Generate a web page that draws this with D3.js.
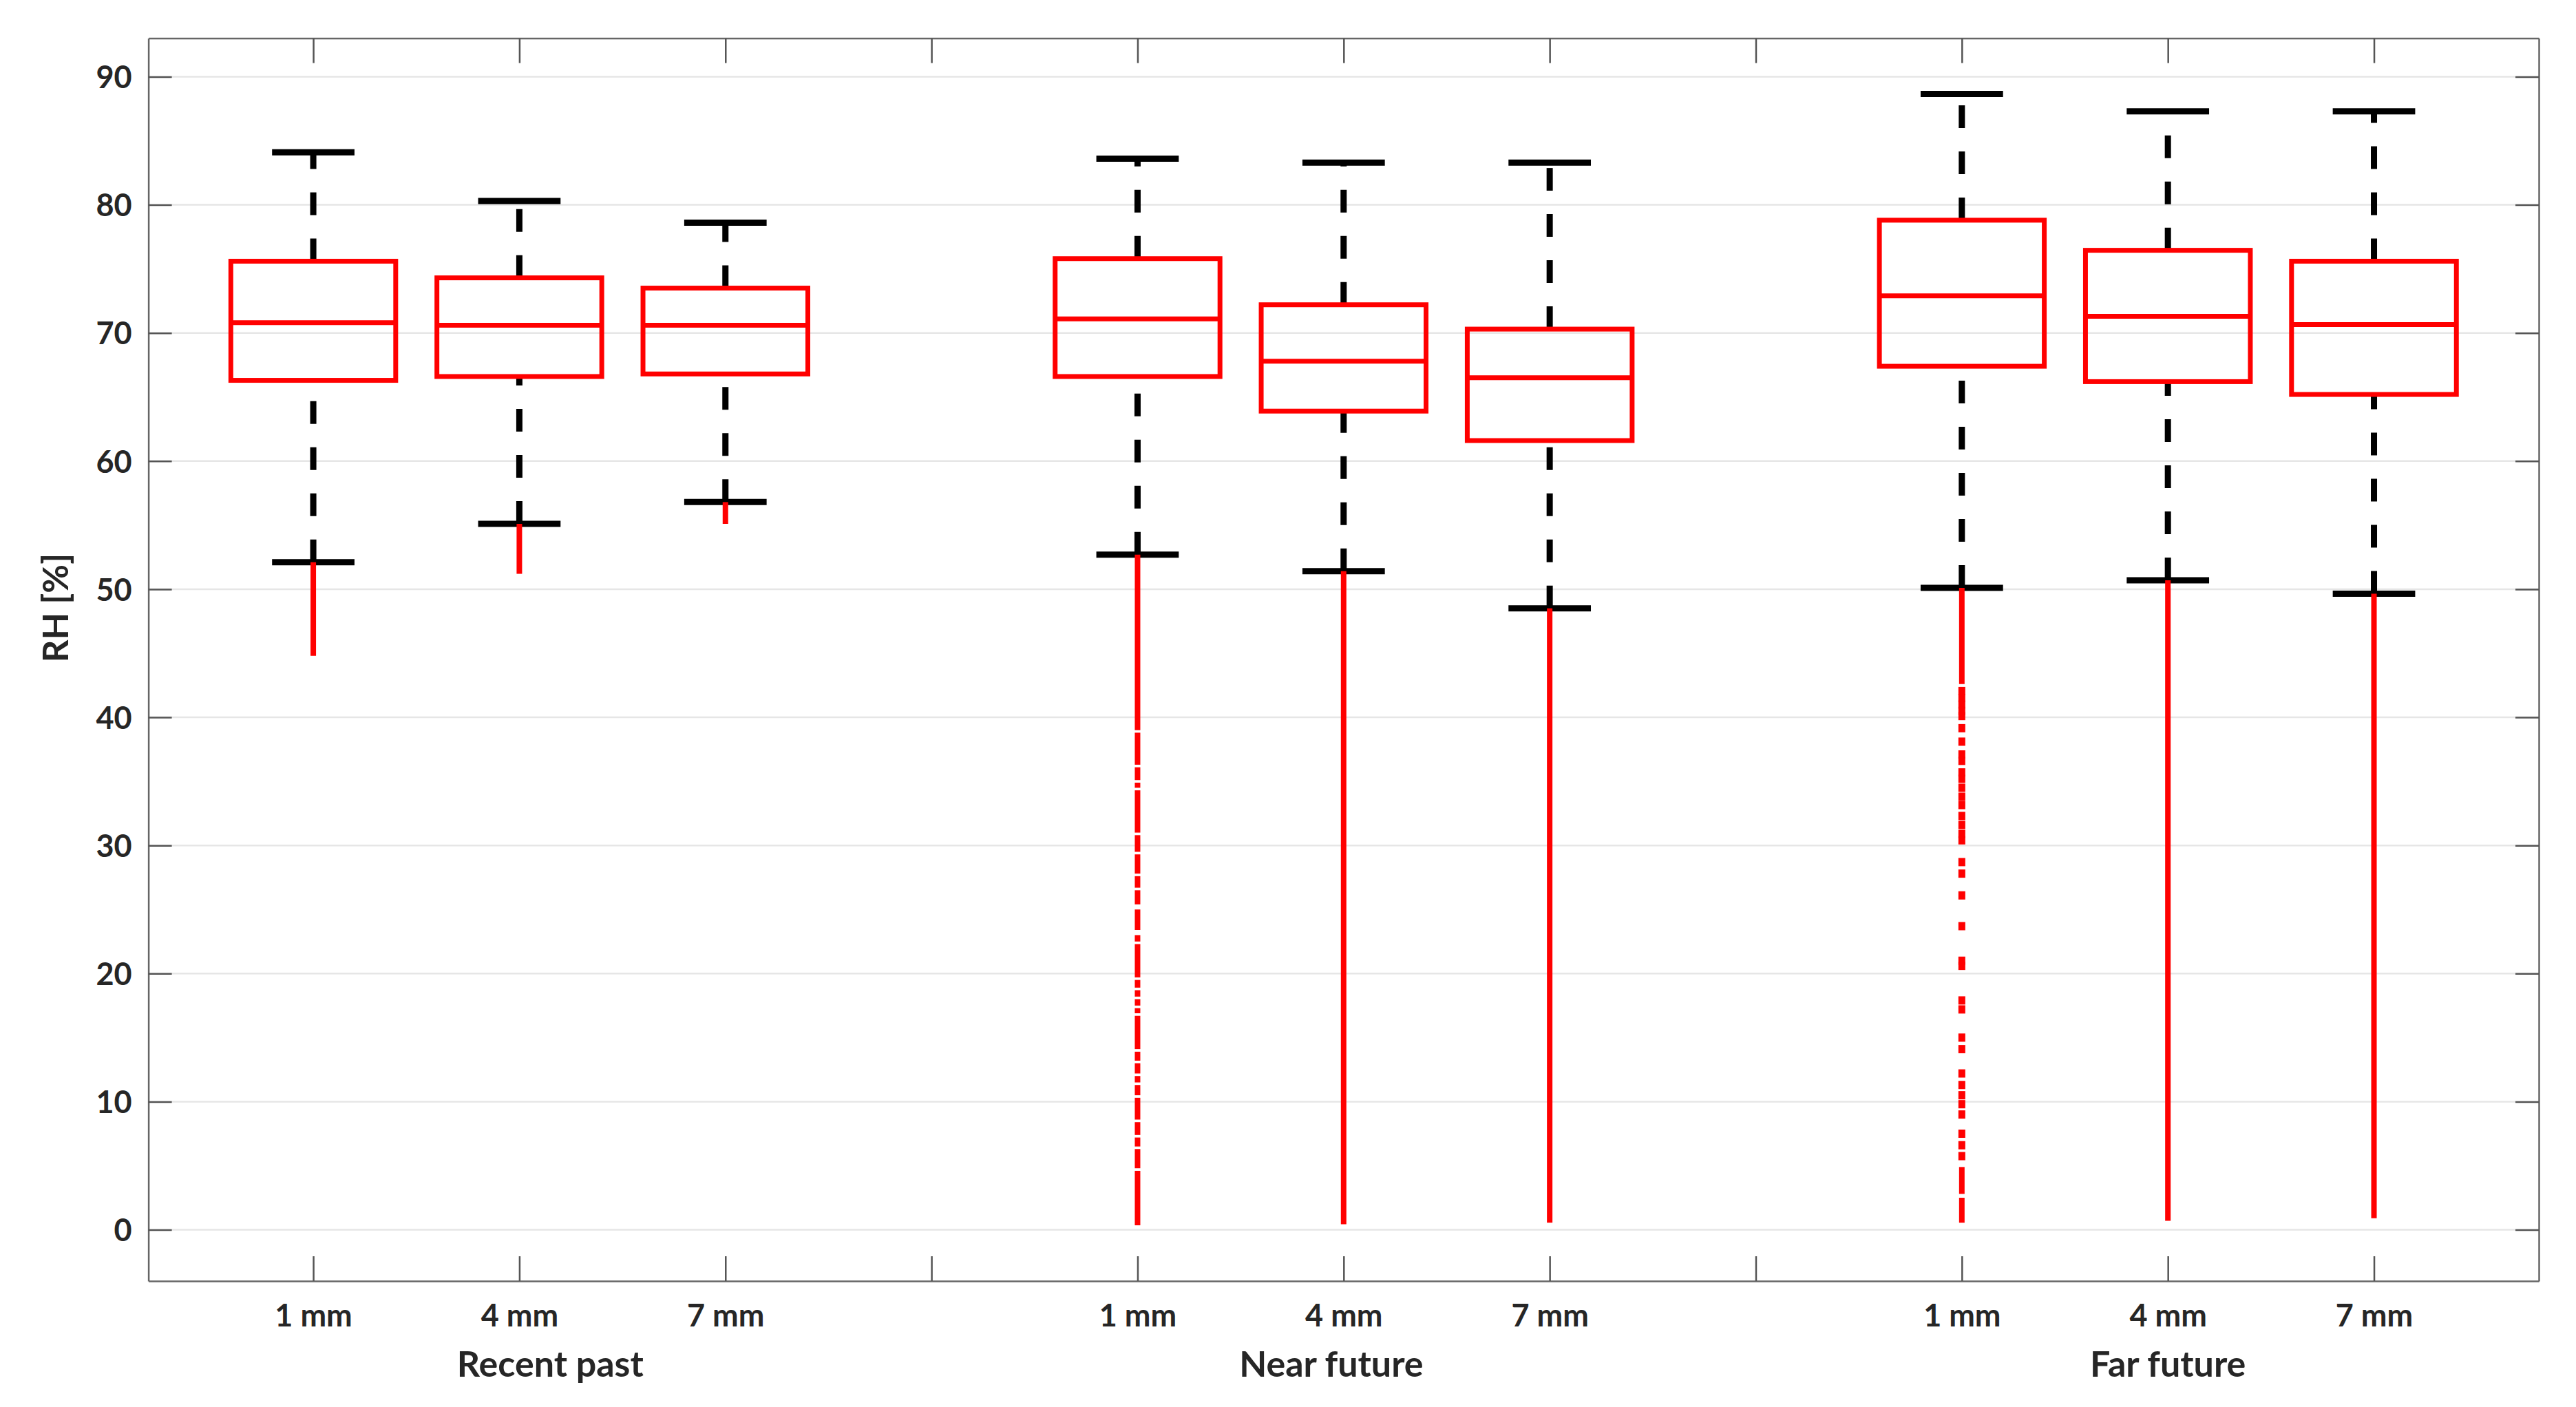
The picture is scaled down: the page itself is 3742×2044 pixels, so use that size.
<!DOCTYPE html>
<html>
<head>
<meta charset="utf-8">
<script src="https://cdn.jsdelivr.net/npm/d3@7"></script>
<style>
  body { margin: 0; background: #fff; }
  svg { display: block; }
  text { font-family: Lato, "Open Sans", sans-serif; font-weight: 700; fill: #262626; }
</style>
</head>
<body>
<svg id="chart"></svg>
<script>
// groups and boxes
const groups = ["Recent past", "Near future", "Far future"];
const groupLabelPos = [2.15, 5.94, 10.0];
const depths = ["1 mm", "4 mm", "7 mm", "1 mm", "4 mm", "7 mm", "1 mm", "4 mm", "7 mm"];
const positions = [1, 2, 3, 5, 6, 7, 9, 10, 11];
const yTicks = [0, 10, 20, 30, 40, 50, 60, 70, 80, 90];

// box statistics (RH %)
const upperWhisker = [84.1, 80.3, 78.6, 83.6, 83.3, 83.3, 88.65, 87.3, 87.3];
const q3 = [75.6, 74.3, 73.5, 75.8, 72.2, 70.3, 78.8, 76.45, 75.6];
const median = [70.8, 70.6, 70.6, 71.1, 67.8, 66.5, 72.9, 71.3, 70.65];
const q1 = [66.3, 66.6, 66.8, 66.6, 63.9, 61.6, 67.4, 66.2, 65.2];
const lowerWhisker = [52.1, 55.1, 56.8, 52.7, 51.4, 48.5, 50.1, 50.7, 49.65];

// outliers: dense runs [high, low] and single points
const outlierRuns = [
  [[52.1, 44.8]],
  [[55.1, 51.2]],
  [[56.8, 55.1]],
  [[52.7, 39.0], [38.8, 36.3], [36.1, 35.1], [34.9, 34.5], [34.3, 31.0], [30.8, 29.5],
   [29.3, 27.8], [27.6, 26.7], [26.5, 25.4], [25.0, 23.4], [23.0, 22.5], [22.3, 19.7],
   [19.5, 18.9], [18.7, 18.2], [18.0, 17.5], [17.3, 16.9], [16.7, 14.1], [13.9, 13.2],
   [13.0, 12.2], [12.0, 11.5], [11.3, 10.5], [10.3, 8.6], [8.4, 7.4], [7.2, 6.5],
   [6.3, 4.8], [4.6, 0.35]],
  [[51.4, 0.43]],
  [[48.5, 0.55]],
  [[50.1, 42.6], [4.9, 2.8], [2.5, 0.55]],
  [[50.7, 0.7]],
  [[49.65, 0.9]]
];
const outlierPts = [
  [], [], [], [], [], [],
  [42.05, 41.5, 41.0, 40.5, 40.1, 39.15, 38.1, 37.1, 36.6, 35.7, 35.2, 34.5, 33.8,
   33.15, 32.3, 31.6, 30.9, 30.4, 28.7, 27.8, 26.1, 23.7, 21.0, 20.6, 17.9, 17.2,
   15.0, 14.1, 12.2, 11.3, 10.5, 9.8, 9.0, 7.5, 6.6, 5.75],
  [], []
];

const W = 3742, H = 2044;
const m = { top: 55.6, right: W - 3688, bottom: H - 1861, left: 215.6 };

const svg = d3.select("#chart").attr("width", W).attr("height", H);

const x = d3.scaleLinear().domain([0.2, 11.8]).range([m.left, W - m.right]);
const y = d3.scaleLinear().domain([-4, 93]).range([H - m.bottom, m.top]);

const boxes = positions.map((p, i) => ({
  pos: p, label: depths[i], hi: upperWhisker[i], q3: q3[i], med: median[i],
  q1: q1[i], lo: lowerWhisker[i], runs: outlierRuns[i], pts: outlierPts[i]
}));

// grid
svg.append("g").selectAll("line").data(yTicks).enter().append("line")
  .attr("x1", x.range()[0]).attr("x2", x.range()[1])
  .attr("y1", d => y(d)).attr("y2", d => y(d))
  .attr("stroke", "#e6e6e6").attr("stroke-width", 2.5);

const boxW = 0.8, capW = 0.4;
const g = svg.append("g");

// whiskers (dashed, drawn from the lower end upward)
const wh = g.selectAll(".box").data(boxes).enter().append("g").attr("class", "box");
wh.append("line")
  .attr("x1", d => x(d.pos)).attr("x2", d => x(d.pos))
  .attr("y1", d => y(d.q3)).attr("y2", d => y(d.hi))
  .attr("stroke", "#000").attr("stroke-width", 9).attr("stroke-dasharray", "33,34");
wh.append("line")
  .attr("x1", d => x(d.pos)).attr("x2", d => x(d.pos))
  .attr("y1", d => y(d.lo)).attr("y2", d => y(d.q1))
  .attr("stroke", "#000").attr("stroke-width", 9).attr("stroke-dasharray", "33,34");

// caps
["hi", "lo"].forEach(k => {
  wh.append("line")
    .attr("x1", d => x(d.pos - capW / 2)).attr("x2", d => x(d.pos + capW / 2))
    .attr("y1", d => y(d[k])).attr("y2", d => y(d[k]))
    .attr("stroke", "#000").attr("stroke-width", 9);
});

// outliers
wh.selectAll(".run").data(d => d.runs.map(r => ({ pos: d.pos, r }))).enter().append("line")
  .attr("class", "run")
  .attr("x1", d => x(d.pos)).attr("x2", d => x(d.pos))
  .attr("y1", d => y(d.r[0])).attr("y2", d => y(d.r[1]))
  .attr("stroke", "#ff0000").attr("stroke-width", 8);
wh.selectAll(".pt").data(d => d.pts.map(v => ({ pos: d.pos, v }))).enter().append("rect")
  .attr("class", "pt")
  .attr("x", d => x(d.pos) - 5).attr("y", d => y(d.v) - 6)
  .attr("width", 10).attr("height", 12)
  .attr("fill", "#ff0000");

// boxes and medians
wh.append("rect")
  .attr("x", d => x(d.pos - boxW / 2)).attr("width", d => x(d.pos + boxW / 2) - x(d.pos - boxW / 2))
  .attr("y", d => y(d.q3)).attr("height", d => y(d.q1) - y(d.q3))
  .attr("fill", "none").attr("stroke", "#ff0000").attr("stroke-width", 7);
wh.append("line")
  .attr("x1", d => x(d.pos - boxW / 2)).attr("x2", d => x(d.pos + boxW / 2))
  .attr("y1", d => y(d.med)).attr("y2", d => y(d.med))
  .attr("stroke", "#ff0000").attr("stroke-width", 7);

// axes
const xTickVals = d3.range(1, 12);
const labelAt = v => { const i = positions.indexOf(v); return i < 0 ? "" : depths[i]; };
const styleAxis = sel => {
  sel.select(".domain").attr("stroke", "#666").attr("stroke-width", 2.5);
  sel.selectAll(".tick line").attr("stroke", "#555").attr("stroke-width", 2.5);
  sel.selectAll("text").attr("fill", "#262626").style("font-family", "Lato, sans-serif").style("font-weight", 700);
};

const xb = svg.append("g").attr("transform", `translate(0,${H - m.bottom})`)
  .call(d3.axisBottom(x).tickValues(xTickVals).tickFormat(labelAt).tickSizeInner(-36).tickSizeOuter(0))
  .call(styleAxis);
xb.selectAll("text").attr("y", 66).attr("dy", 0).attr("font-size", 45);

svg.append("g").attr("transform", `translate(0,${m.top})`)
  .call(d3.axisTop(x).tickValues(xTickVals).tickFormat("").tickSizeInner(-36).tickSizeOuter(0))
  .call(styleAxis);

const yl = svg.append("g").attr("transform", `translate(${m.left},0)`)
  .call(d3.axisLeft(y).tickValues(yTicks).tickSizeInner(-34).tickSizeOuter(0).tickPadding(24))
  .call(styleAxis);
yl.selectAll("text").attr("font-size", 45).attr("dy", "0.36em");

svg.append("g").attr("transform", `translate(${W - m.right},0)`)
  .call(d3.axisRight(y).tickValues(yTicks).tickFormat("").tickSizeInner(-34).tickSizeOuter(0))
  .call(styleAxis);

// group labels
svg.append("g").selectAll("text").data(groups).enter().append("text")
  .attr("x", (d, i) => x(groupLabelPos[i])).attr("y", 2000)
  .attr("text-anchor", "middle").attr("font-size", 52)
  .text(d => d);

// y label
svg.append("text")
  .attr("transform", "translate(99,883) rotate(-90)")
  .attr("text-anchor", "middle").attr("font-size", 51)
  .text("RH [%]");
</script>
</body>
</html>
